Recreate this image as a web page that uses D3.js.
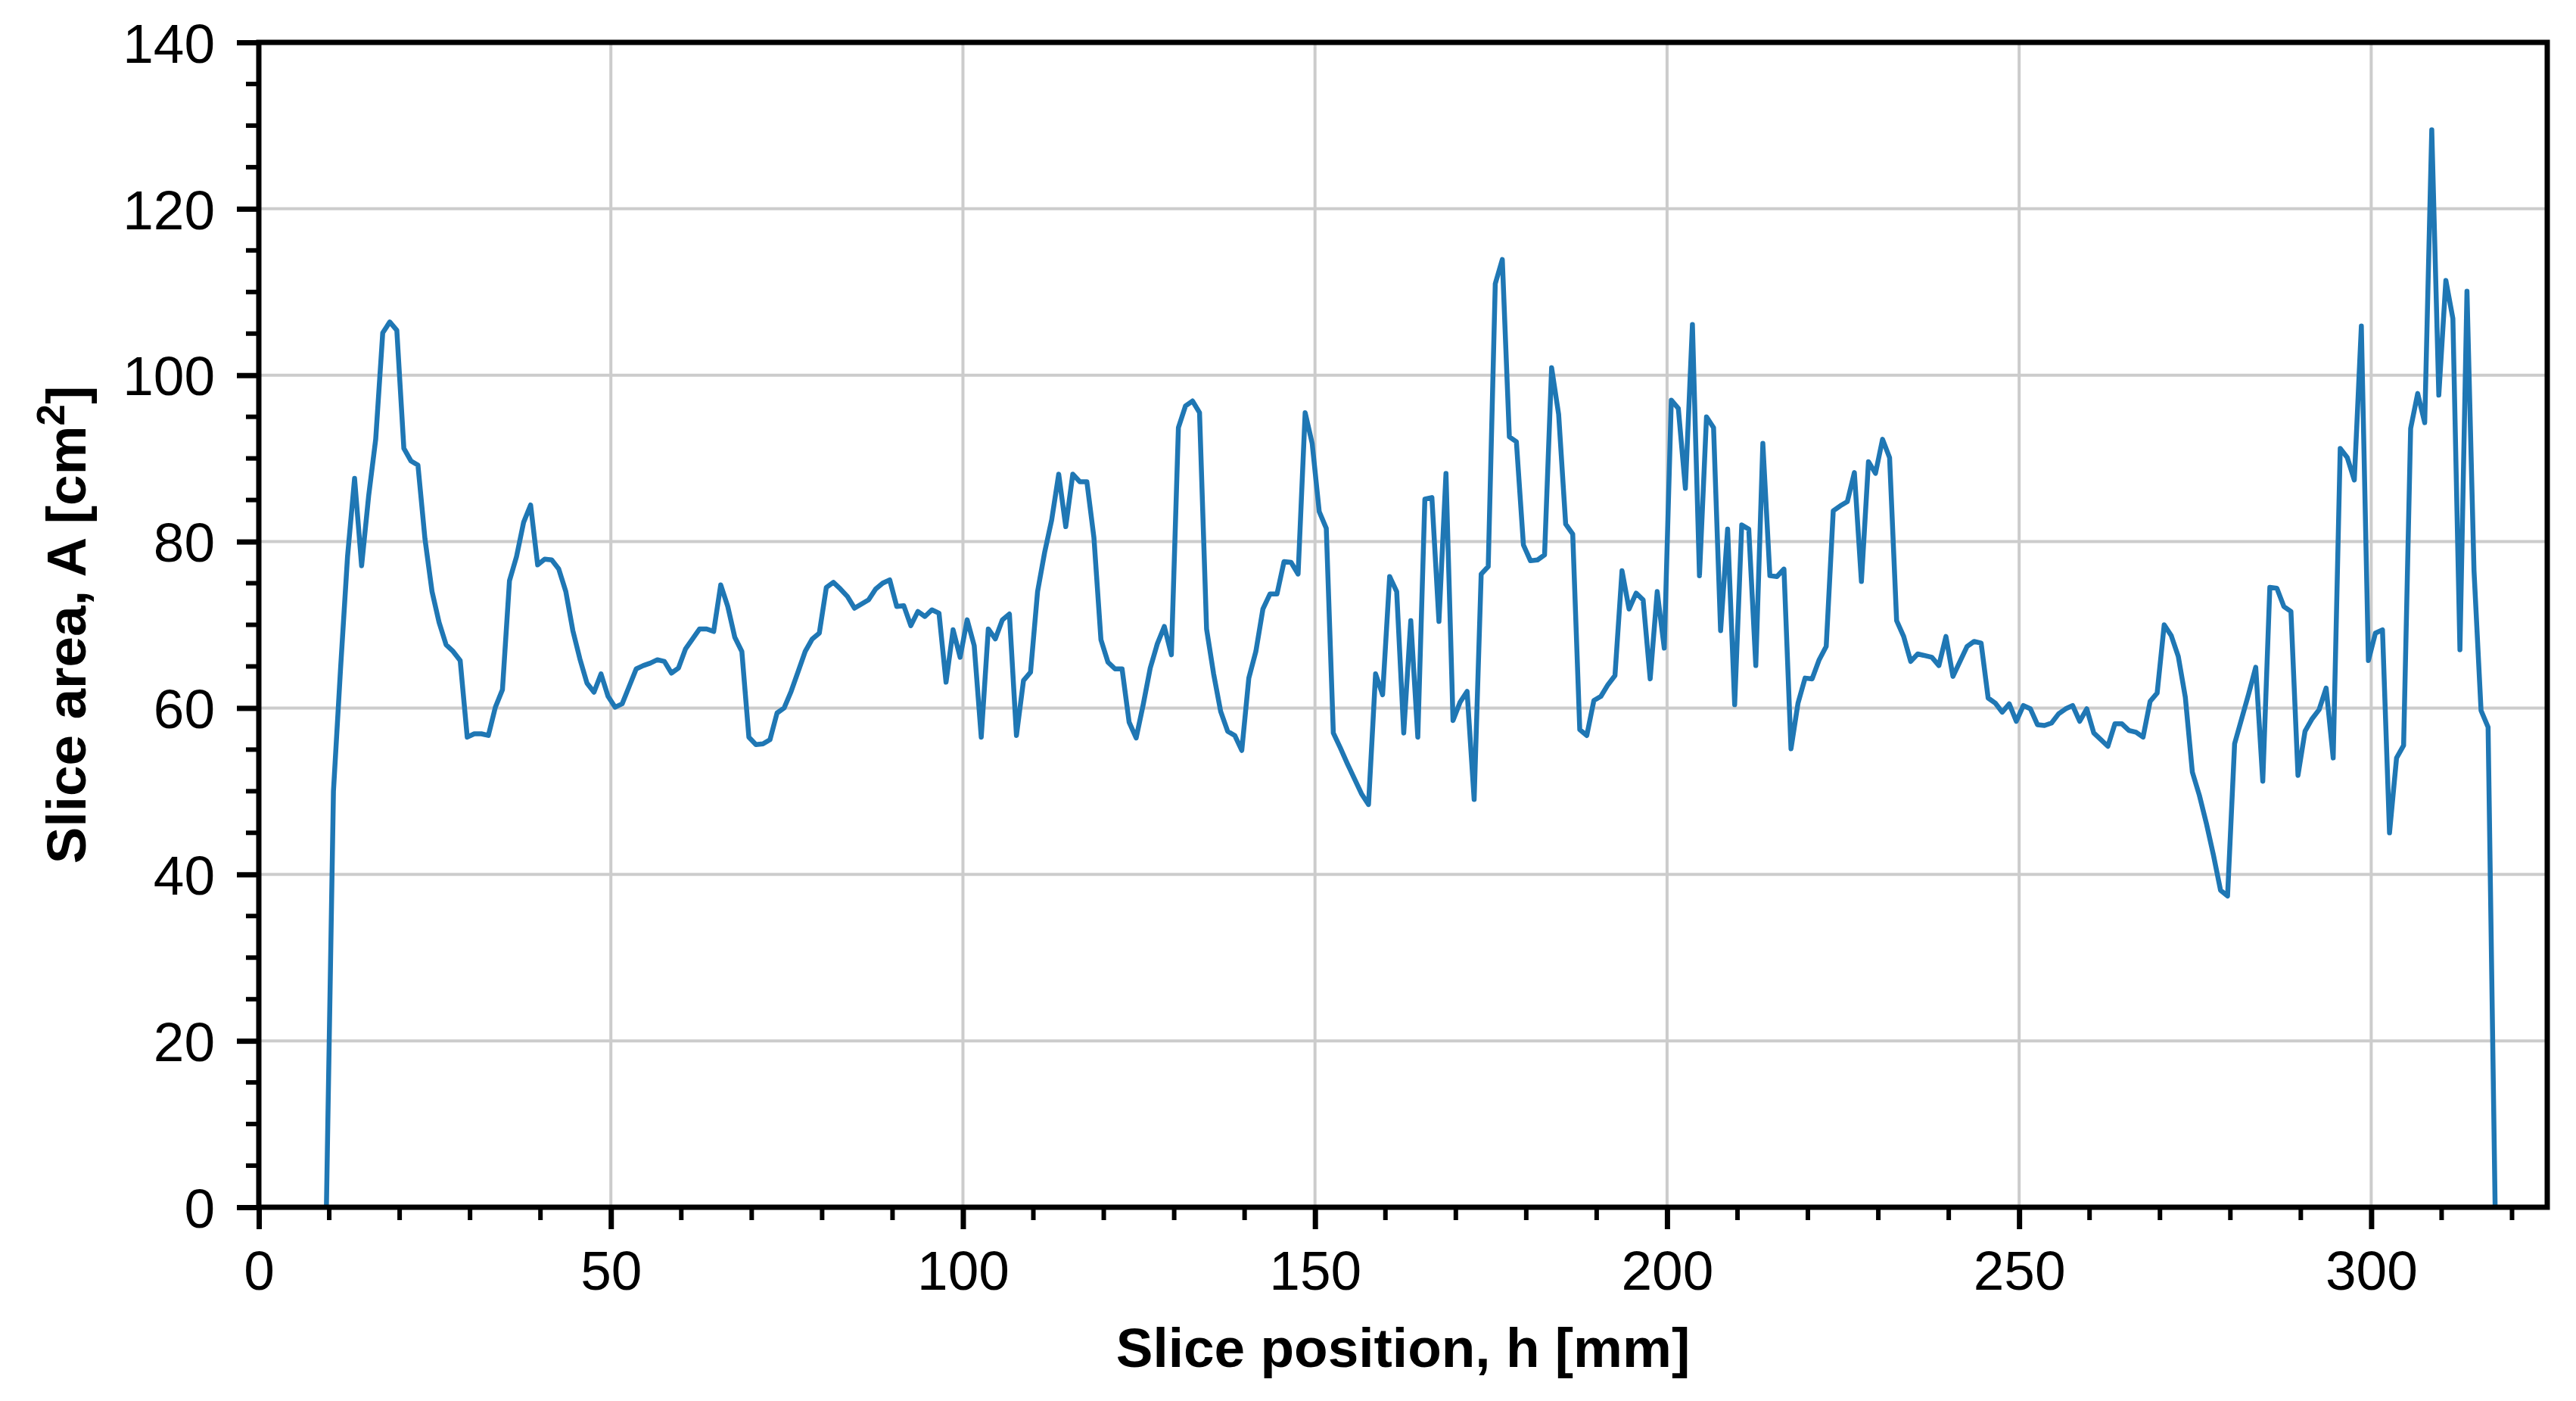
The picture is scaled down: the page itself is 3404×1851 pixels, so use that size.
<!DOCTYPE html>
<html>
<head>
<meta charset="utf-8">
<script src="https://cdn.jsdelivr.net/npm/d3@7"></script>
<style>
  html, body { margin: 0; padding: 0; background: #ffffff; }
  svg { display: block; }
  text { font-family: "Liberation Sans", Arial, Helvetica, sans-serif; fill: #000; }
</style>
</head>
<body>
<svg id="chart" width="3404" height="1851"></svg>
<script>
// ---- data ----
const positions = [
  9.6,10.6,11.6,12.6,13.6,14.6,15.6,16.6,17.6,18.6,
  19.6,20.6,21.6,22.6,23.6,24.6,25.6,26.6,27.6,28.6,
  29.6,30.6,31.6,32.6,33.6,34.6,35.6,36.6,37.6,38.6,
  39.6,40.6,41.6,42.6,43.6,44.6,45.6,46.6,47.6,48.6,
  49.6,50.6,51.6,52.6,53.6,54.6,55.6,56.6,57.6,58.6,
  59.6,60.6,61.6,62.6,63.6,64.6,65.6,66.6,67.6,68.6,
  69.6,70.6,71.6,72.6,73.6,74.6,75.6,76.6,77.6,78.6,
  79.6,80.6,81.6,82.6,83.6,84.6,85.6,86.6,87.6,88.6,
  89.6,90.6,91.6,92.6,93.6,94.6,95.6,96.6,97.6,98.6,
  99.6,100.6,101.6,102.6,103.6,104.6,105.6,106.6,107.6,108.6,
  109.6,110.6,111.6,112.6,113.6,114.6,115.6,116.6,117.6,118.6,
  119.6,120.6,121.6,122.6,123.6,124.6,125.6,126.6,127.6,128.6,
  129.6,130.6,131.6,132.6,133.6,134.6,135.6,136.6,137.6,138.6,
  139.6,140.6,141.6,142.6,143.6,144.6,145.6,146.6,147.6,148.6,
  149.6,150.6,151.6,152.6,153.6,154.6,155.6,156.6,157.6,158.6,
  159.6,160.6,161.6,162.6,163.6,164.6,165.6,166.6,167.6,168.6,
  169.6,170.6,171.6,172.6,173.6,174.6,175.6,176.6,177.6,178.6,
  179.6,180.6,181.6,182.6,183.6,184.6,185.6,186.6,187.6,188.6,
  189.6,190.6,191.6,192.6,193.6,194.6,195.6,196.6,197.6,198.6,
  199.6,200.6,201.6,202.6,203.6,204.6,205.6,206.6,207.6,208.6,
  209.6,210.6,211.6,212.6,213.6,214.6,215.6,216.6,217.6,218.6,
  219.6,220.6,221.6,222.6,223.6,224.6,225.6,226.6,227.6,228.6,
  229.6,230.6,231.6,232.6,233.6,234.6,235.6,236.6,237.6,238.6,
  239.6,240.6,241.6,242.6,243.6,244.6,245.6,246.6,247.6,248.6,
  249.6,250.6,251.6,252.6,253.6,254.6,255.6,256.6,257.6,258.6,
  259.6,260.6,261.6,262.6,263.6,264.6,265.6,266.6,267.6,268.6,
  269.6,270.6,271.6,272.6,273.6,274.6,275.6,276.6,277.6,278.6,
  279.6,280.6,281.6,282.6,283.6,284.6,285.6,286.6,287.6,288.6,
  289.6,290.6,291.6,292.6,293.6,294.6,295.6,296.6,297.6,298.6,
  299.6,300.6,301.6,302.6,303.6,304.6,305.6,306.6,307.6,308.6,
  309.6,310.6,311.6,312.6,313.6,314.6,315.6,316.6,317.6
];

const areas = [
  0, 50, 64.6, 78.2, 87.6, 77.1, 85.5, 92.3, 105.1, 106.4,
  105.4, 91.2, 89.7, 89.2, 80.3, 74.0, 70.3, 67.6, 66.8, 65.7,
  56.5, 56.9, 56.9, 56.7, 60.1, 62.2, 75.3, 78.2, 82.3, 84.4,
  77.2, 77.9, 77.8, 76.7, 74.0, 69.3, 65.9, 63.0, 61.9, 64.1,
  61.4, 60.1, 60.5, 62.6, 64.7, 65.1, 65.4, 65.8, 65.6, 64.2,
  64.8, 67.1, 68.3, 69.5, 69.5, 69.2, 74.8, 72.2, 68.5, 66.8,
  56.5, 55.6, 55.7, 56.2, 59.4, 60.0, 62.0, 64.4, 66.8, 68.3,
  69.0, 74.5, 75.1, 74.3, 73.4, 72.0, 72.5, 73.0, 74.3, 75.0,
  75.4, 72.2, 72.3, 69.9, 71.6, 71.0, 71.8, 71.4, 63.1, 69.4,
  66.1, 70.6, 67.5, 56.5, 69.5, 68.3, 70.6, 71.3, 56.7, 63.3,
  64.3, 74.0, 78.7, 82.6, 88.1, 81.8, 88.1, 87.2, 87.2, 80.5,
  68.2, 65.5, 64.7, 64.7, 58.3, 56.4, 60.4, 64.8, 67.7, 69.8,
  66.4, 93.7, 96.3, 96.9, 95.5, 69.5, 64.1, 59.6, 57.2, 56.7,
  54.9, 63.6, 66.8, 71.9, 73.7, 73.7, 77.6, 77.5, 76.1, 95.5,
  91.8, 83.6, 81.6, 57.0, 55.2, 53.3, 51.5, 49.7, 48.4, 64.1,
  61.6, 75.8, 74.0, 57.0, 70.5, 56.5, 85.1, 85.3, 70.4, 88.2,
  58.5, 60.7, 62.0, 49.0, 76.1, 77.0, 111.0, 113.9, 92.6, 92.0,
  79.6, 77.7, 77.8, 78.4, 100.9, 95.3, 82.1, 80.9, 57.4, 56.7,
  60.9, 61.4, 62.8, 63.9, 76.5, 71.9, 73.8, 73.0, 63.5, 74.0,
  67.2, 97.0, 96.0, 86.4, 106.1, 75.9, 95.0, 93.7, 69.3, 81.5,
  60.4, 82.0, 81.5, 65.1, 91.8, 75.9, 75.8, 76.7, 55.1, 60.6,
  63.6, 63.5, 65.8, 67.4, 83.7, 84.3, 84.8, 88.3, 75.2, 89.6,
  88.2, 92.3, 90.1, 70.5, 68.6, 65.6, 66.5, 66.3, 66.1, 65.1,
  68.6, 63.8, 65.6, 67.4, 68.0, 67.8, 61.2, 60.6, 59.5, 60.5,
  58.4, 60.3, 59.9, 58.0, 57.9, 58.2, 59.3, 59.9, 60.3, 58.4,
  59.9, 57.0, 56.2, 55.4, 58.1, 58.1, 57.3, 57.1, 56.5, 60.8,
  61.8, 70.0, 68.7, 66.2, 61.3, 52.3, 49.5, 46.1, 42.3, 38.1,
  37.4, 55.7, 58.7, 61.7, 64.9, 51.2, 74.5, 74.4, 72.2, 71.6,
  51.9, 57.2, 58.7, 59.8, 62.4, 54.0, 91.2, 90.1, 87.4, 105.9,
  65.7, 69.0, 69.4, 45.0, 54.0, 55.5, 93.6, 97.8, 94.3, 129.5,
  97.6, 111.4, 106.8, 67.0, 110.1, 76.5, 59.7, 57.7, 0
];

const xTickValues = [0, 50, 100, 150, 200, 250, 300];
const yTickValues = [0, 20, 40, 60, 80, 100, 120, 140];
const xDomain = [0, 325];
const yDomain = [0, 140];
const xTitle = "Slice position, h [mm]";
const yTitleMain = "Slice area, A [cm";
const yTitleSup = "2";
const yTitleEnd = "]";

// ---- layout ----
const W = 3404, H = 1851;
const M = { left: 342, right: 3366, top: 56, bottom: 1595 };
const FS = 73;
const spineW = 7, majorLen = 29, minorLen = 17, majorW = 7, minorW = 6;
const lineColor = "#1f77b4";
const gridColor = "#cccccc";

const svg = d3.select("#chart");
svg.append("rect").attr("width", W).attr("height", H).attr("fill", "#fff");

const x = d3.scaleLinear().domain(xDomain).range([M.left, M.right]);
const y = d3.scaleLinear().domain(yDomain).range([M.bottom, M.top]);

// grid
const grid = svg.append("g");
grid.selectAll("line.gx").data(xTickValues).join("line")
  .attr("x1", d => x(d)).attr("x2", d => x(d))
  .attr("y1", M.top).attr("y2", M.bottom)
  .attr("stroke", gridColor).attr("stroke-width", 4);
grid.selectAll("line.gy").data(yTickValues).join("line")
  .attr("x1", M.left).attr("x2", M.right)
  .attr("y1", d => y(d)).attr("y2", d => y(d))
  .attr("stroke", gridColor).attr("stroke-width", 4);

// data line
const pts = positions.map((p, i) => [p, areas[i]]);
const line = d3.line().x(d => x(d[0])).y(d => y(d[1]));
svg.append("defs").append("clipPath").attr("id", "clip")
  .append("rect").attr("x", M.left).attr("y", M.top - 10)
  .attr("width", M.right - M.left).attr("height", M.bottom - M.top + 10);
svg.append("path").datum(pts)
  .attr("d", line)
  .attr("fill", "none")
  .attr("stroke", lineColor)
  .attr("stroke-width", 6.5)
  .attr("stroke-linejoin", "round")
  .attr("clip-path", "url(#clip)");

// minor ticks
const xMinor = d3.range(0, 326, 10).filter(v => v % 50 !== 0);
const yMinor = d3.range(0, 141, 5).filter(v => v % 20 !== 0);
svg.append("g").selectAll("line").data(xMinor).join("line")
  .attr("x1", d => x(d)).attr("x2", d => x(d))
  .attr("y1", M.bottom).attr("y2", M.bottom + minorLen)
  .attr("stroke", "#000").attr("stroke-width", minorW);
svg.append("g").selectAll("line").data(yMinor).join("line")
  .attr("x1", M.left).attr("x2", M.left - minorLen)
  .attr("y1", d => y(d)).attr("y2", d => y(d))
  .attr("stroke", "#000").attr("stroke-width", minorW);

// major axes
const xAxis = d3.axisBottom(x).tickValues(xTickValues).tickFormat(d3.format("d"))
  .tickSize(majorLen).tickSizeOuter(0).tickPadding(28);
const gx = svg.append("g").attr("transform", `translate(0,${M.bottom})`).call(xAxis);
gx.select(".domain").remove();
gx.selectAll(".tick line").attr("stroke", "#000").attr("stroke-width", majorW);
gx.selectAll(".tick text").attr("font-size", FS).attr("fill", "#000")
  .attr("font-family", "'Liberation Sans', Arial, sans-serif");

const yAxis = d3.axisLeft(y).tickValues(yTickValues).tickFormat(d3.format("d"))
  .tickSize(majorLen).tickSizeOuter(0).tickPadding(29);
const gy = svg.append("g").attr("transform", `translate(${M.left},0)`).call(yAxis);
gy.select(".domain").remove();
gy.selectAll(".tick line").attr("stroke", "#000").attr("stroke-width", majorW);
gy.selectAll(".tick text").attr("font-size", FS).attr("fill", "#000").attr("dy", "0.36em")
  .attr("font-family", "'Liberation Sans', Arial, sans-serif");

// spines
svg.append("rect")
  .attr("x", M.left).attr("y", M.top)
  .attr("width", M.right - M.left).attr("height", M.bottom - M.top)
  .attr("fill", "none").attr("stroke", "#000").attr("stroke-width", spineW);

// titles
svg.append("text")
  .attr("x", (M.left + M.right) / 2).attr("y", 1806)
  .attr("text-anchor", "middle").attr("font-size", FS).attr("font-weight", "bold")
  .text(xTitle);

const yt = svg.append("text")
  .attr("transform", `translate(113,${(M.top + M.bottom) / 2}) rotate(-90)`)
  .attr("text-anchor", "middle").attr("font-size", FS).attr("font-weight", "bold");
yt.append("tspan").text(yTitleMain);
yt.append("tspan").attr("font-size", FS * 0.7).attr("dy", -FS * 0.38).text(yTitleSup);
yt.append("tspan").attr("dy", FS * 0.38).text(yTitleEnd);
</script>
</body>
</html>
